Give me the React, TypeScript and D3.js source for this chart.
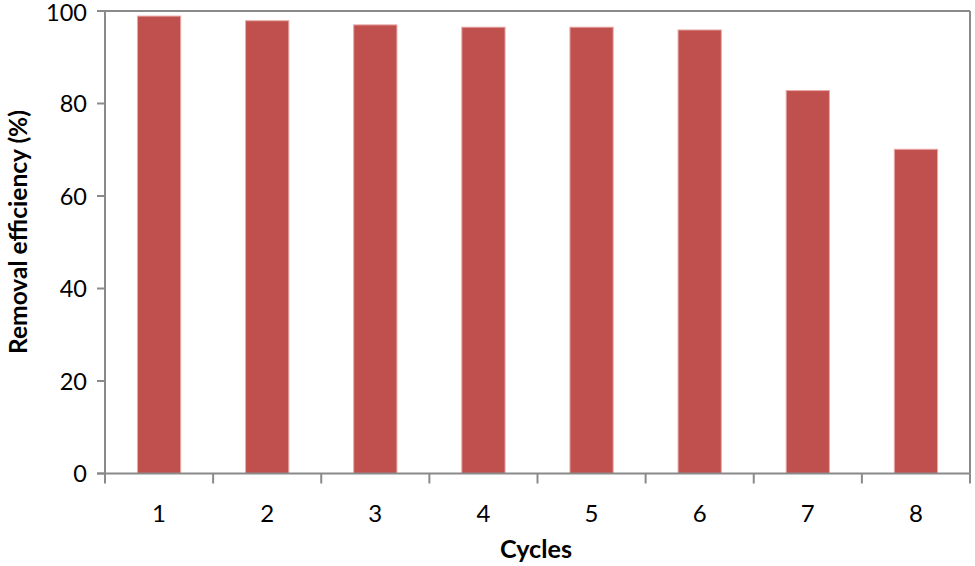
import React from "react";
import * as d3 from "d3";

const categories = ["1", "2", "3", "4", "5", "6", "7", "8"];
const values = [98.9, 97.9, 97.0, 96.5, 96.5, 95.9, 82.8, 70.1];
const yTicks = [0, 20, 40, 60, 80, 100];
const xTitle = "Cycles";
const yTitle = "Removal efficiency (%)";

const W = 975;
const H = 566;
const M = { left: 105, right: 970, top: 11, bottom: 473.5 };
const FONT = "Lato, 'Open Sans', sans-serif";
const AXIS = "#8a8a8a";

export default function App() {
  const x = d3
    .scaleBand<string>()
    .domain(categories)
    .range([M.left, M.right])
    .paddingInner(0.6)
    .paddingOuter(0.3);
  const y = d3.scaleLinear().domain([0, 100]).range([M.bottom, M.top]);
  const step = x.step();
  const boundaries = d3.range(categories.length + 1).map((i) => M.left + i * step);

  return (
    <svg
      width={W}
      height={H}
      style={{ position: "absolute", left: 0, top: 0, background: "#fff" }}
    >
      {/* plot border */}
      <line x1={M.left} x2={M.right} y1={M.top} y2={M.top} stroke={AXIS} strokeWidth={2} />
      <line x1={M.right} x2={M.right} y1={M.top} y2={M.bottom} stroke={AXIS} strokeWidth={2} />
      {/* bars */}
      {categories.map((c, i) => (
        <rect
          key={c}
          x={x(c)}
          y={y(values[i])}
          width={x.bandwidth()}
          height={y(0) - y(values[i])}
          fill="#C0504D"
          stroke="#E8A9A7"
          strokeWidth={1}
        />
      ))}
      {/* y axis */}
      <line x1={M.left} x2={M.left} y1={M.top} y2={M.bottom} stroke={AXIS} strokeWidth={2} />
      {yTicks.map((t) => (
        <g key={t}>
          <line x1={M.left - 8} x2={M.left} y1={y(t)} y2={y(t)} stroke={AXIS} strokeWidth={2} />
          <text
            x={87}
            y={Math.max(y(t) + 8.5, 21)}
            textAnchor="end"
            fontFamily={FONT}
            fontSize={23.5}
            fill="#000"
          >
            {t}
          </text>
        </g>
      ))}
      {/* x axis */}
      <line x1={M.left - 8} x2={M.right} y1={M.bottom} y2={M.bottom} stroke={AXIS} strokeWidth={2} />
      {boundaries.map((b, i) => (
        <line key={i} x1={b} x2={b} y1={M.bottom} y2={M.bottom + 10} stroke={AXIS} strokeWidth={2} />
      ))}
      {categories.map((c) => (
        <text
          key={c}
          x={(x(c) as number) + x.bandwidth() / 2}
          y={522}
          textAnchor="middle"
          fontFamily={FONT}
          fontSize={24}
          fill="#000"
        >
          {c}
        </text>
      ))}
      {/* titles */}
      <text
        x={536}
        y={558}
        textAnchor="middle"
        fontFamily={FONT}
        fontWeight="bold"
        fontSize={24}
        textLength={72}
        lengthAdjust="spacingAndGlyphs"
      >
        {xTitle}
      </text>
      <text
        transform={`translate(27,232) rotate(-90)`}
        textAnchor="middle"
        fontFamily={FONT}
        fontWeight="bold"
        fontSize={24}
        textLength={244}
        lengthAdjust="spacingAndGlyphs"
      >
        {yTitle}
      </text>
    </svg>
  );
}
